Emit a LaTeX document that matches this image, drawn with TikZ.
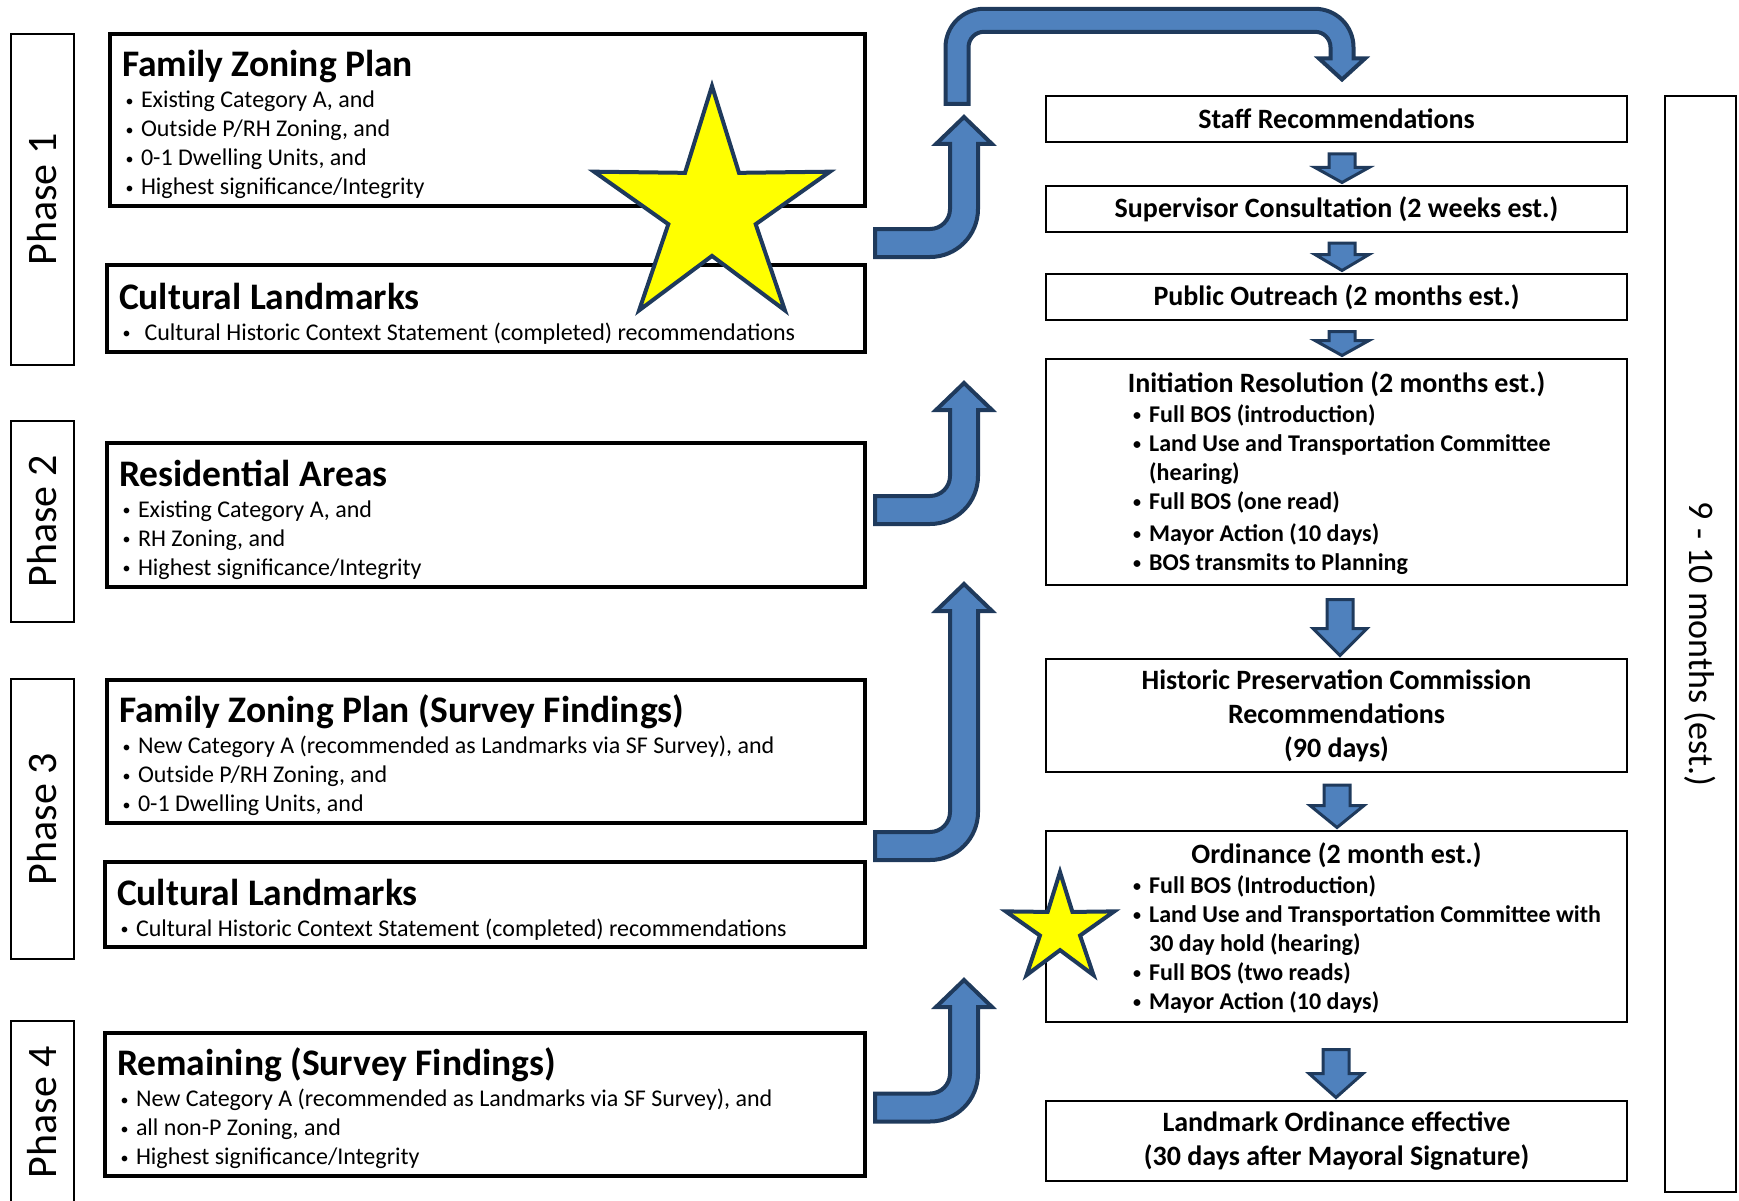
\documentclass[tikz,border=0pt]{standalone}
\usepackage{fontspec}
\setmainfont{Carlito}
\usetikzlibrary{shapes.geometric,calc}
\usepackage{xcolor}

\definecolor{arrowfill}{HTML}{4F81BD}
\definecolor{arrowedge}{HTML}{1F3A5C}
\definecolor{starfill}{HTML}{FFFF00}

\tikzset{
    phasebox/.style={draw,line width=2pt,minimum height=63pt,inner sep=0pt,
        rotate=90,font=\fontsize{42}{50}\selectfont},
    stepbox/.style={draw,line width=4pt,anchor=north west,inner xsep=12pt,
        inner ysep=0pt,outer sep=0pt,align=flush left,font=\fontsize{24}{29}\selectfont},
    flowbox/.style={draw,line width=2.2pt,anchor=north west,minimum width=581pt,
        inner sep=0pt,outer sep=0pt,align=center,
        font=\fontsize{28}{34}\selectfont\bfseries},
    flowhead/.style={inner sep=0pt,font=\fontsize{28}{34}\selectfont\bfseries},
    flowlist/.style={anchor=north west,inner sep=0pt,align=flush left,
        font=\fontsize{24}{29}\selectfont\bfseries},
    blockarrow/.style={draw=arrowedge,fill=arrowfill,line width=4pt},
    starshape/.style={star,star points=5,star point ratio=2.7,draw=arrowedge,
        fill=starfill,line width=4pt,inner sep=0pt},
}

\newcommand{\stephead}[1]{\rule{0pt}{36pt}{\fontsize{37.5}{29}\selectfont\bfseries #1}\\[2pt]}
\newcommand{\dotmark}{\raisebox{1.5pt}{\fontsize{16}{16}\selectfont\textbullet}}
\newcommand{\bitem}{\hspace*{3.5pt}\makebox[15.5pt][l]{\dotmark}}
\newcommand{\ritem}{\makebox[16pt][l]{\dotmark}}

% arrow leaving a phase: #1 = centre of the band, #2 = tip
\newcommand{\bentArrow}[2] {
    \draw[blockarrow] (875,#1-14) -- (930,#1-14)
        .. controls (941,#1-14) and (950,#1-23) .. (950,#1-34)
        -- (950,#2+27) -- (936,#2+27) -- (964,#2) -- (992,#2+27) -- (978,#2+27)
        -- (978,#1-34) .. controls (978,#1-7.5) and (956.5,#1+14) .. (930,#1+14)
        -- (875,#1+14) -- cycle;
}
% arrow between two steps: from, to, x offset, gap, head length
\newcommand{\downArrow}[5] {
    \draw[blockarrow,line width=3pt]
        ($(#1.south)+(#3-13,#4)$) -- ($(#2.north)+(#3-13,-3.5-#5)$)
        -- ($(#2.north)+(#3-27,-3.5-#5)$) -- ($(#2.north)+(#3,-3.5)$)
        -- ($(#2.north)+(#3+27,-3.5-#5)$) -- ($(#2.north)+(#3+13,-3.5-#5)$)
        -- ($(#1.south)+(#3+13,#4)$) -- cycle;
}

\begin{document}
\begin{tikzpicture}[x=1pt,y=-1pt]
    \useasboundingbox (0,0) rectangle (1739,1201);

    % phases
    \node[phasebox,minimum width=331pt] (phase1) at (42.5,199.5) {Phase 1};
    \node[phasebox,minimum width=201pt] (phase2) at (42.5,521.5) {Phase 2};
    \node[phasebox,minimum width=280pt] (phase3) at (42.5,819) {Phase 3};
    \node[phasebox,minimum width=182pt] (phase4) at (42.5,1112) {Phase 4};

    % what each phase covers
    \node[stepbox,minimum width=755pt,text width=731pt,minimum height=172pt]
        (fzp1) at (110,34) {\stephead{Family Zoning Plan}
        \bitem Existing Category A, and\\
        \bitem Outside P/RH Zoning, and\\
        \bitem 0-1 Dwelling Units, and\\
        \bitem Highest significance/Integrity};
    \node[stepbox,minimum width=758pt,text width=734pt,minimum height=87pt]
        (cl1) at (107,265) {\stephead{Cultural Landmarks}
        \hspace*{3.5pt}\makebox[22pt][l]{\dotmark}Cultural Historic Context Statement (completed) recommendations};
    \node[stepbox,minimum width=758pt,text width=734pt,minimum height=144pt]
        (res) at (107,443) {\stephead{Residential Areas}
        \bitem Existing Category A, and\\
        \bitem RH Zoning, and\\
        \bitem Highest significance/Integrity};
    \node[stepbox,minimum width=758pt,text width=734pt,minimum height=143pt]
        (fzp3) at (107,680) {\stephead{Family Zoning Plan (Survey Findings)}
        \bitem New Category A (recommended as Landmarks via SF Survey), and\\
        \bitem Outside P/RH Zoning, and\\
        \bitem 0-1 Dwelling Units, and};
    \node[stepbox,minimum width=760pt,text width=736pt,minimum height=85pt]
        (cl3) at (105,862) {\stephead{Cultural Landmarks}
        \bitem Cultural Historic Context Statement (completed) recommendations};
    \node[stepbox,minimum width=760pt,text width=736pt,minimum height=143pt]
        (rem) at (105,1033) {\stephead{Remaining (Survey Findings)}
        \bitem New Category A (recommended as Landmarks via SF Survey), and\\
        \bitem all non-P Zoning, and\\
        \bitem Highest significance/Integrity};

    % adoption steps
    \node[flowbox,minimum height=46pt] (staff) at (1046,96) {Staff Recommendations};
    \node[flowbox,minimum height=46pt] (superv) at (1046,186) {Supervisor Consultation (2 weeks est.)};
    \node[flowbox,minimum height=46pt] (public) at (1046,274) {Public Outreach (2 months est.)};
    \node[flowbox,minimum height=226pt] (init) at (1046,359) {};
    \node[flowhead] (inithead) at (1336.5,384) {Initiation Resolution (2 months est.)};
    \node[flowlist] (initlist) at (1133,404) {\ritem Full BOS (introduction)\\
        \ritem Land Use and Transportation Committee\\
        \hspace*{16pt}(hearing)\\
        \ritem Full BOS (one read)\\[3pt]
        \ritem Mayor Action (10 days)\\
        \ritem BOS transmits to Planning};
    \node[flowbox,minimum height=113pt] (hpc) at (1046,659)
        {Historic Preservation Commission\\Recommendations\\(90 days)};
    \node[flowbox,minimum height=191pt] (ord) at (1046,831) {};
    \node[flowhead] (ordhead) at (1336.5,855) {Ordinance (2 month est.)};
    \node[flowlist] (ordlist) at (1133,875) {\ritem Full BOS (Introduction)\\
        \ritem Land Use and Transportation Committee with\\
        \hspace*{16pt}30 day hold (hearing)\\
        \ritem Full BOS (two reads)\\
        \ritem Mayor Action (10 days)};
    \node[flowbox,minimum height=80pt] (lmo) at (1046,1101)
        {Landmark Ordinance effective\\(30 days after Mayoral Signature)};

    \node[draw,line width=2.5pt,minimum width=1096pt,minimum height=71pt,
        inner sep=0pt,rotate=-90,font=\fontsize{36}{44}\selectfont]
        (months) at (1700.5,644) {9 - 10 months (est.)};

    % arrows
    \bentArrow{243}{117}
    \bentArrow{510}{383}
    \bentArrow{846}{584}
    \bentArrow{1107.5}{980}
    \draw[blockarrow] (945.5,104) -- (945.5,47.3)
        .. controls (945.5,26) and (962.7,8.8) .. (984,8.8) -- (1315,8.8)
        .. controls (1336.3,8.8) and (1353.5,26) .. (1353.5,47.3)
        -- (1353.5,58.5) -- (1365,58.5) -- (1342,79.5) -- (1319,58.5) -- (1330.5,58.5)
        -- (1330.5,47.3) .. controls (1330.5,38.7) and (1323.6,31.8) .. (1315,31.8)
        -- (984,31.8) .. controls (975.4,31.8) and (968.5,38.7) .. (968.5,47.3)
        -- (968.5,104) -- cycle;

    \downArrow{staff}{superv}{5.5}{12}{15}
    \downArrow{superv}{public}{5.5}{11}{16}
    \downArrow{public}{init}{5.5}{11.5}{15}
    \downArrow{init}{hpc}{3.5}{14.5}{27}
    \downArrow{hpc}{ord}{0.5}{13}{22}
    \downArrow{ord}{lmo}{-0.5}{27.5}{24}

    % stars
    \node[starshape,minimum size=248pt] (bigstar) at (712,210) {};
    \node[starshape,minimum size=114pt] (smallstar) at (1060,929) {};
\end{tikzpicture}
\end{document}
